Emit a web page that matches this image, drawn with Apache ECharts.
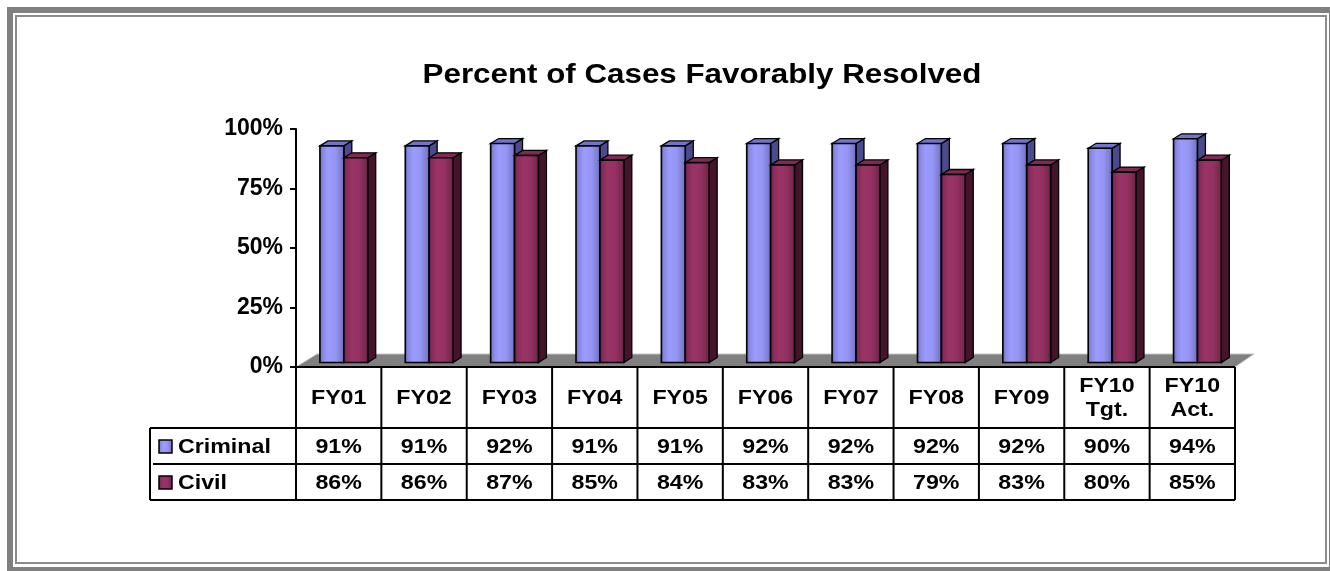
<!DOCTYPE html>
<html><head><meta charset="utf-8">
<script src="https://cdn.jsdelivr.net/npm/echarts@6/dist/echarts.min.js"></script>
<style>html,body{margin:0;padding:0;background:#fff}#c{width:1330px;height:571px}</style>
</head><body><div id="c"></div>
<script>
const titleText = 'Percent of Cases Favorably Resolved';
const categories = ['FY01','FY02','FY03','FY04','FY05','FY06','FY07','FY08','FY09','FY10\nTgt.','FY10\nAct.'];
const seriesNames = ['Criminal','Civil'];
const criminal = [91,91,92,91,91,92,92,92,92,90,94];
const civil = [86,86,87,85,84,83,83,79,83,80,85];
const yTicks = [0,25,50,75,100];

const FONT = 'Liberation Sans, Arial, sans-serif';
const SX = 1.16;
const faces = [
  {front:[['0','#55559e'],['0.12','#8585e0'],['0.35','#9c9cff'],['0.65','#9494f2'],['0.88','#7b7bd0'],['1','#6464b0']], top:'#7373c8', side:'#4a4a8c'},
  {front:[['0','#561a38'],['0.12','#842c58'],['0.35','#9a3467'],['0.65','#933162'],['0.88','#7a2850'],['1','#661f42']], top:'#7f2a54', side:'#45142c'}
];
function grad(stops){
  return new echarts.graphic.LinearGradient(0,0,1,0, stops.map(s=>({offset:+s[0], color:s[1]})));
}
function makeRender(slot){
  const f = faces[slot];
  return function(params, api){
    const i = api.value(0), v = api.value(1);
    const c = api.coord([i, v]), b = api.coord([i, 0]);
    const band = api.size([1, 0])[0];
    const bw = band * 0.28, dx = 8, dy = -5, lift = 4.5;
    const x0 = c[0] - band * 0.22 + slot * bw;
    const yt = c[1] - lift, yb = b[1] - lift;
    return {type:'group', children:[
      {type:'polygon', shape:{points:[[x0+bw,yt],[x0+bw+dx,yt+dy],[x0+bw+dx,yb+dy],[x0+bw,yb]]}, style:{fill:f.side, stroke:'#000', lineWidth:1.3}},
      {type:'polygon', shape:{points:[[x0,yt],[x0+dx,yt+dy],[x0+bw+dx,yt+dy],[x0+bw,yt]]}, style:{fill:f.top, stroke:'#000', lineWidth:1.3}},
      {type:'rect', shape:{x:x0, y:yt, width:bw, height:yb-yt}, style:{fill:grad(f.front), stroke:'#000', lineWidth:1.6}}
    ]};
  };
}

const chart = echarts.init(document.getElementById('c'), null, {renderer:'canvas'});
chart.setOption({
  animation:false,
  backgroundColor:'#fff',
  grid:{left:296, right:95, top:129, bottom:204},
  xAxis:{type:'category', data:categories, axisLabel:{show:false}, axisLine:{show:false}, axisTick:{show:false}},
  yAxis:{type:'value', min:yTicks[0], max:yTicks[yTicks.length-1], interval:25,
    axisLine:{show:true, lineStyle:{color:'#000', width:2}},
    axisTick:{show:true, length:6, lineStyle:{color:'#000', width:2}},
    splitLine:{show:false},
    axisLabel:{formatter:'{value}%', color:'#000', fontFamily:FONT, fontWeight:'bold', fontSize:23, margin:13}},
  series:[
    {type:'custom', name:seriesNames[0], renderItem:makeRender(0), data:criminal.map((v,i)=>[i,v]), encode:{x:0,y:1}, z:3},
    {type:'custom', name:seriesNames[1], renderItem:makeRender(1), data:civil.map((v,i)=>[i,v]), encode:{x:0,y:1}, z:4}
  ]
});

// layout derived from the axes
const c0 = chart.convertToPixel({xAxisIndex:0}, 0);
const c1 = chart.convertToPixel({xAxisIndex:0}, 1);
const band = c1 - c0;
const xL = c0 - band/2;
const xR = xL + band * categories.length;
const y0 = chart.convertToPixel({yAxisIndex:0}, 0);
const headH = 61, rowH = 36, legL = 150;
const g = [];
// frame
g.push({type:'rect', z:0, shape:{x:10, y:10, width:1322, height:560}, style:{fill:'none', stroke:'#808080', lineWidth:6}});
g.push({type:'rect', z:0, shape:{x:16, y:16, width:1310, height:547}, style:{fill:'none', stroke:'#8c8c8c', lineWidth:2}});
// title
g.push({type:'text', z:5, x:702, y:76, scaleX:SX, style:{text:titleText, font:'bold 27px '+FONT, fill:'#000', align:'center', verticalAlign:'middle'}});
// floor
g.push({type:'polygon', z:1, shape:{points:[[xL,y0],[xR,y0],[xR+19,y0-13],[xL+21,y0-13]]}, style:{fill:'#808080', stroke:'#c4c4c4', lineWidth:1}});
// table lines
const lines = [];
lines.push([xL, y0, xR, y0]);
lines.push([legL, y0+headH, xR, y0+headH]);
lines.push([legL+3, y0+headH+rowH, xR, y0+headH+rowH]);
lines.push([legL, y0+headH+2*rowH, xR, y0+headH+2*rowH]);
lines.push([legL, y0+headH, legL, y0+headH+2*rowH]);
for (let k=0;k<=categories.length;k++){ const x = xL + k*band; lines.push([x, y0, x, y0+headH+2*rowH]); }
lines.forEach(l=>g.push({type:'line', z:6, shape:{x1:l[0],y1:l[1],x2:l[2],y2:l[3]}, style:{stroke:'#000', lineWidth:2}}));
// header texts and values
const rows = [criminal, civil];
categories.forEach((cat,i)=>{
  const cx = chart.convertToPixel({xAxisIndex:0}, i);
  g.push({type:'text', z:7, x:cx, y:y0+headH/2+1, scaleX:SX, style:{text:cat, font:'bold 20px '+FONT, lineHeight:24, fill:'#000', align:'center', verticalAlign:'middle'}});
  rows.forEach((r,ri)=>{
    g.push({type:'text', z:7, x:cx, y:y0+headH+rowH*ri+rowH/2+1, scaleX:SX, style:{text:r[i]+'%', font:'bold 20px '+FONT, fill:'#000', align:'center', verticalAlign:'middle'}});
  });
});
seriesNames.forEach((n,ri)=>{
  const ym = y0+headH+rowH*ri+rowH/2;
  g.push({type:'rect', z:7, shape:{x:159, y:ym-6, width:13, height:13}, style:{fill:grad(faces[ri].front), stroke:'#000', lineWidth:1.5}});
  g.push({type:'text', z:7, x:178, y:ym+1, scaleX:SX, style:{text:n, font:'bold 20px '+FONT, fill:'#000', align:'left', verticalAlign:'middle'}});
});
chart.setOption({graphic:{elements:g}});
</script></body></html>
